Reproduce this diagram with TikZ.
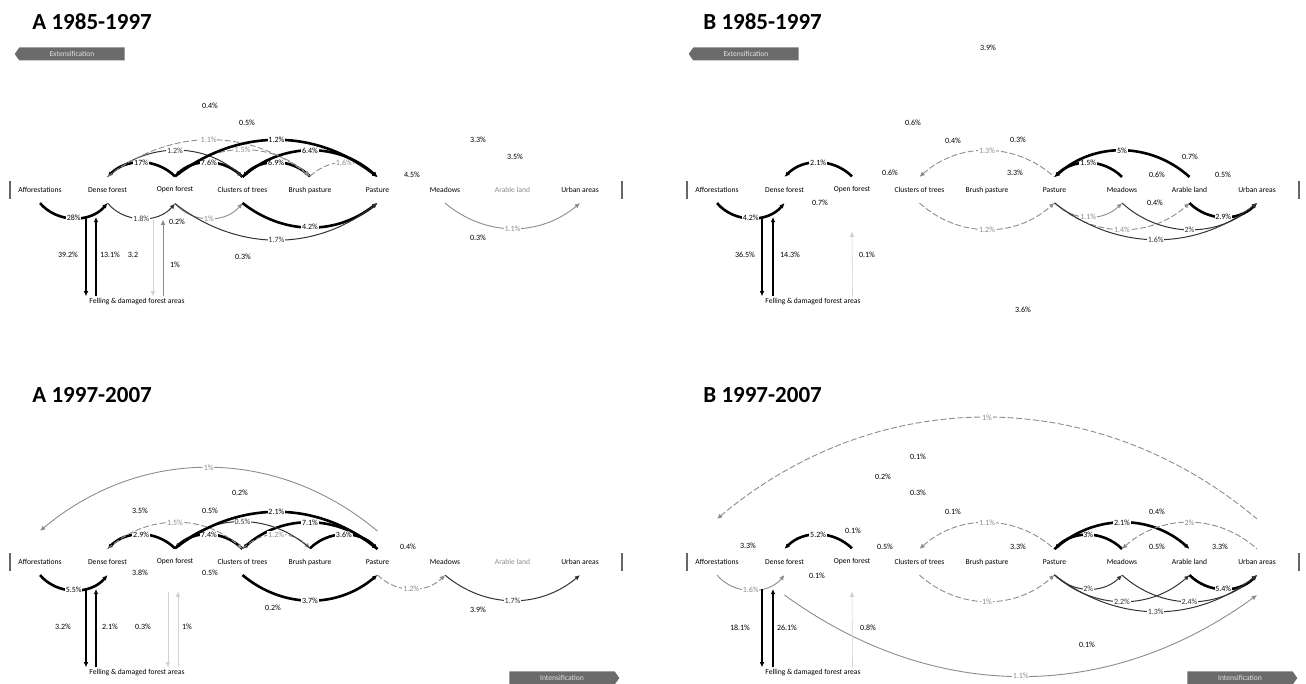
\documentclass[tikz,border=0pt]{standalone}
\usepackage{fontspec}
\setmainfont{Carlito}
\usetikzlibrary{arrows.meta, shapes.symbols}

% one row of land-use classes: prefix, x of first class, y, colour of arable land
\newcommand\landrow[4]{%
  \foreach \k/\t [count=\i from 0] in {af/Afforestations, df/Dense forest, of/Open forest,
      ct/Clusters of trees, bp/Brush pasture, pa/Pasture, me/Meadows,
      al/{\textcolor{#4}{Arable land}}, ua/Urban areas}
    \node[lu] (#1\k) at ({#2+67.5*\i},#3) {\t};
  \draw[bar] ({#2-30},{#3-9}) -- ({#2-30},{#3+9});
  \draw[bar] ({#2+582},{#3-9}) -- ({#2+582},{#3+9});
}

\begin{document}
\begin{tikzpicture}[x=0.5pt, y=0.5pt,
  >={Latex[length=2.6pt,width=2.4pt]},
  lu/.style={font=\fontsize{3.8}{4}\selectfont, inner xsep=1pt, inner ysep=5pt},
  fel/.style={font=\fontsize{3.8}{4}\selectfont, inner sep=1pt},
  pct/.style={font=\fontsize{4}{4.5}\selectfont, fill=white, inner sep=0.4pt},
  ttl/.style={font=\fontsize{11.5}{13}\selectfont\bfseries, anchor=west, inner sep=0pt},
  sig/.style={signal, fill=black!58, text=black!12, font=\fontsize{3.8}{4}\selectfont,
              minimum width=55pt, minimum height=6.5pt, inner sep=0.5pt, signal pointer angle=110},
  thk/.style={line width=1.3pt},
  thn/.style={line width=0.5pt, black!80},
  gry/.style={line width=0.45pt, black!45},
  dsh/.style={line width=0.45pt, black!45, dash pattern=on 3pt off 1.2pt},
  vrt/.style={line width=1.4pt},
  fnt/.style={line width=0.3pt, black!18},
  bar/.style={line width=0.8pt, black!60},
  arcup/.style={bend left=#1},
  arcdn/.style={bend right=#1},
]
\useasboundingbox (0,0) rectangle (1306,684);

% Titles and tendency arrows
\node[ttl] (ta) at (32,662) {A 1985-1997};
\node[ttl] (tb) at (703,662) {B 1985-1997};
\node[ttl] (tc) at (32,289) {A 1997-2007};
\node[ttl] (td) at (703,289) {B 1997-2007};
\node[sig, signal to=west] (aext) at (72,630) {Extensification};
\node[sig, signal to=west] (bext) at (746,630) {Extensification};
\node[sig, signal to=east] (cint) at (562,6) {Intensification};
\node[sig, signal to=east] (dint) at (1240,6) {Intensification};

% Rows of classes
\landrow{a}{40}{494}{black!45}
\landrow{b}{717}{494}{black}
\landrow{c}{40}{122}{black!45}
\landrow{d}{717}{122}{black}
\node[fel] (afel) at (137,382) {Felling \& damaged forest areas};
\node[fel] (bfel) at (813,382) {Felling \& damaged forest areas};
\node[fel] (cfel) at (137,11) {Felling \& damaged forest areas};
\node[fel] (dfel) at (813,11) {Felling \& damaged forest areas};

% ---------------- A 1985-1997
\draw[thk,<-] (adf.north) to[arcup=45] node[pct]{17\%} (aof.north);
\draw[thk,<-] (aof.north) to[arcup=45] node[pct]{7.6\%} (act.north);
\draw[thk,<-] (act.north) to[arcup=45] node[pct]{6.9\%} (abp.north);
\draw[dsh,->] (abp.north) to[arcup=45] node[pct]{1.6\%} (apa.north);
\draw[thn,->] (adf.north) to[arcup=42] node[pct]{1.2\%} (act.north);
\draw[dsh,->] (aof.north) to[arcup=42] node[pct]{1.5\%} (abp.north);
\draw[thk,->] (act.north) to[arcup=42] node[pct]{6.4\%} (apa.north);
\draw[dsh,->] (adf.north) to[arcup=38] node[pct]{1.1\%} (abp.north);
\draw[thk,->] (aof.north) to[arcup=38] node[pct]{1.2\%} (apa.north);
\draw[thk,->] (aaf.south) to[arcdn=50] node[pct]{28\%} (adf.south);
\draw[thn,->] (adf.south) to[arcdn=50] node[pct]{1.8\%} (aof.south);
\draw[gry,->] (aof.south) to[arcdn=50] node[pct]{1\%} (act.south);
\draw[thk,->] (act.south) to[arcdn=38] node[pct]{4.2\%} (apa.south);
\draw[thn,->] (aof.south) to[arcdn=38] node[pct]{1.7\%} (apa.south);
\draw[gry,->] (ame.south) to[arcdn=40] node[pct]{1.1\%} (aua.south);
\draw[vrt,->] ([xshift=-10.75pt,yshift=-7pt]adf.south) -- ([xshift=-25.5pt]afel.north);
\draw[vrt,->] ([xshift=-20.5pt]afel.north) -- ([xshift=-5.75pt,yshift=-7pt]adf.south);
\draw[gry,->] ([xshift=13pt]afel.north) -- ([xshift=-6pt,yshift=-8pt]aof.south);
\draw[fnt,->] ([xshift=-11pt,yshift=-8pt]aof.south) -- ([xshift=8pt]afel.north);
\foreach \x/\y/\t [count=\j] in {210/578/0.4\%, 247/561/0.5\%, 478/544/3.3\%, 515/527/3.5\%,
    412/509/4.5\%, 243/427/0.3\%, 478/446/0.3\%, 68/429/39.2\%, 110/429/13.1\%,
    133/429/3.2, 177/462/0.2\%, 175/419/1\%}
  \node[pct] (ap\j) at (\x,\y) {\t};

% ---------------- B 1985-1997
\draw[thk,<-] (bdf.north) to[arcup=45] node[pct]{2.1\%} (bof.north);
\draw[dsh,<-] (bct.north) to[arcup=42] node[pct]{1.3\%} (bpa.north);
\draw[thk,<-] (bpa.north) to[arcup=45] node[pct]{1.5\%} (bme.north);
\draw[thk,<-] (bpa.north) to[arcup=42] node[pct]{5\%} (bal.north);
\draw[thk,->] (baf.south) to[arcdn=50] node[pct]{4.2\%} (bdf.south);
\draw[dsh,->] (bct.south) to[arcdn=42] node[pct]{1.2\%} (bpa.south);
\draw[gry,->] (bpa.south) to[arcdn=45] node[pct]{1.1\%} (bme.south);
\draw[dsh,->] (bpa.south) to[arcdn=42] node[pct]{1.4\%} (bal.south);
\draw[thn,->] (bme.south) to[arcdn=42] node[pct]{2\%} (bua.south);
\draw[thk,->] (bal.south) to[arcdn=45] node[pct]{2.9\%} (bua.south);
\draw[thn,->] (bpa.south) to[arcdn=38] node[pct]{1.6\%} (bua.south);
\draw[vrt,->] ([xshift=-11.25pt,yshift=-7pt]bdf.south) -- ([xshift=-25.5pt]bfel.north);
\draw[vrt,->] ([xshift=-20pt]bfel.north) -- ([xshift=-5.75pt,yshift=-7pt]bdf.south);
\draw[fnt,->] ([xshift=19.75pt]bfel.north) -- ([yshift=-14pt]bof.south);
\foreach \x/\y/\t [count=\j] in {988/636/3.9\%, 913/561/0.6\%, 953/543/0.4\%, 1018/544/0.3\%,
    890/511/0.6\%, 1015/511/3.3\%, 1190/527/0.7\%, 1157/509/0.6\%, 1223/509/0.5\%,
    1155/481/0.4\%, 820/481/0.7\%, 1023/374/3.6\%, 745/429/36.5\%, 790/429/14.3\%,
    867/429/0.1\%}
  \node[pct] (bp\j) at (\x,\y) {\t};

% ---------------- A 1997-2007
\draw[gry,<-] ([yshift=9pt]caf.north) to[arcup=40] node[pct]{1\%} ([yshift=9pt]cpa.north);
\draw[thk,<-] (cdf.north) to[arcup=45] node[pct]{2.9\%} (cof.north);
\draw[thk,<-] (cof.north) to[arcup=45] node[pct]{7.4\%} (cct.north);
\draw[thk,<-] (cct.north) to[arcup=42] node[pct]{7.1\%} (cpa.north);
\draw[dsh,->] (cct.north) to[arcup=45] node[pct]{1.2\%} (cbp.north);
\draw[thk,->] (cbp.north) to[arcup=45] node[pct]{3.6\%} (cpa.north);
\draw[dsh,->] (cdf.north) to[arcup=42] node[pct]{1.5\%} (cct.north);
\draw[thn,<-] (cof.north) to[arcup=42] node[pct]{0.5\%} (cbp.north);
\draw[thk,->] (cof.north) to[arcup=38] node[pct]{2.1\%} (cpa.north);
\draw[thk,->] (caf.south) to[arcdn=50] node[pct]{5.5\%} (cdf.south);
\draw[thk,->] (cct.south) to[arcdn=40] node[pct]{3.7\%} (cpa.south);
\draw[dsh,->] (cpa.south) to[arcdn=45] node[pct]{1.2\%} (cme.south);
\draw[thn,->] (cme.south) to[arcdn=40] node[pct]{1.7\%} (cua.south);
\draw[vrt,->] ([xshift=-10.75pt,yshift=-7pt]cdf.south) -- ([xshift=-25.5pt]cfel.north);
\draw[vrt,->] ([xshift=-20.5pt]cfel.north) -- ([xshift=-5.75pt,yshift=-7pt]cdf.south);
\draw[fnt,->] ([xshift=20.5pt]cfel.north) -- ([xshift=1.5pt,yshift=-8pt]cof.south);
\draw[fnt,->] ([xshift=-3.5pt,yshift=-8pt]cof.south) -- ([xshift=15.5pt]cfel.north);
\foreach \x/\y/\t [count=\j] in {240/191/0.2\%, 140/173/3.5\%, 210/173/0.5\%, 140/111/3.8\%,
    210/111/0.5\%, 273/76/0.2\%, 478/74/3.9\%, 408/137/0.4\%, 63/57/3.2\%,
    110/57/2.1\%, 143/57/0.3\%, 187/57/1\%}
  \node[pct] (cp\j) at (\x,\y) {\t};

% ---------------- B 1997-2007
\draw[dsh,<-] ([yshift=15pt]daf.north) to[arcup=40] node[pct]{1\%} ([yshift=15pt]dua.north);
\draw[thk,<-] (ddf.north) to[arcup=45] node[pct]{5.2\%} (dof.north);
\draw[dsh,<-] (dct.north) to[arcup=42] node[pct]{1.1\%} (dpa.north);
\draw[thk,<-] (dpa.north) to[arcup=45] node[pct]{3\%} (dme.north);
\draw[thk,->] (dpa.north) to[arcup=42] node[pct]{2.1\%} (dal.north);
\draw[dsh,<-] (dme.north) to[arcup=42] node[pct]{2\%} (dua.north);
\draw[gry,->] (daf.south) to[arcdn=50] node[pct]{1.6\%} (ddf.south);
\draw[dsh,->] (dct.south) to[arcdn=42] node[pct]{1\%} (dpa.south);
\draw[thn,->] (dpa.south) to[arcdn=45] node[pct]{2\%} (dme.south);
\draw[thn,->] (dpa.south) to[arcdn=42] node[pct]{2.2\%} (dal.south);
\draw[thn,->] (dme.south) to[arcdn=42] node[pct]{2.4\%} (dua.south);
\draw[thk,->] (dal.south) to[arcdn=45] node[pct]{5.4\%} (dua.south);
\draw[thn,->] (dpa.south) to[arcdn=38] node[pct]{1.3\%} (dua.south);
\draw[gry,->] ([yshift=-10pt]ddf.south) to[arcdn=36] node[pct]{1.1\%} ([yshift=-10pt]dua.south);
\draw[vrt,->] ([xshift=-11.25pt,yshift=-7pt]ddf.south) -- ([xshift=-25.5pt]dfel.north);
\draw[vrt,->] ([xshift=-20pt]dfel.north) -- ([xshift=-5.75pt,yshift=-7pt]ddf.south);
\draw[fnt,->] ([xshift=19.75pt]dfel.north) -- ([yshift=-8pt]dof.south);
\foreach \x/\y/\t [count=\j] in {918/227/0.1\%, 883/207/0.2\%, 918/191/0.3\%, 953/172/0.1\%,
    853/153/0.1\%, 885/137/0.5\%, 748/138/3.3\%, 817/108/0.1\%, 1018/137/3.3\%,
    1157/172/0.4\%, 1157/137/0.5\%, 1220/137/3.3\%, 1087/39/0.1\%, 868/56/0.8\%,
    740/56/18.1\%, 787/56/26.1\%}
  \node[pct] (dp\j) at (\x,\y) {\t};
\end{tikzpicture}
\end{document}
